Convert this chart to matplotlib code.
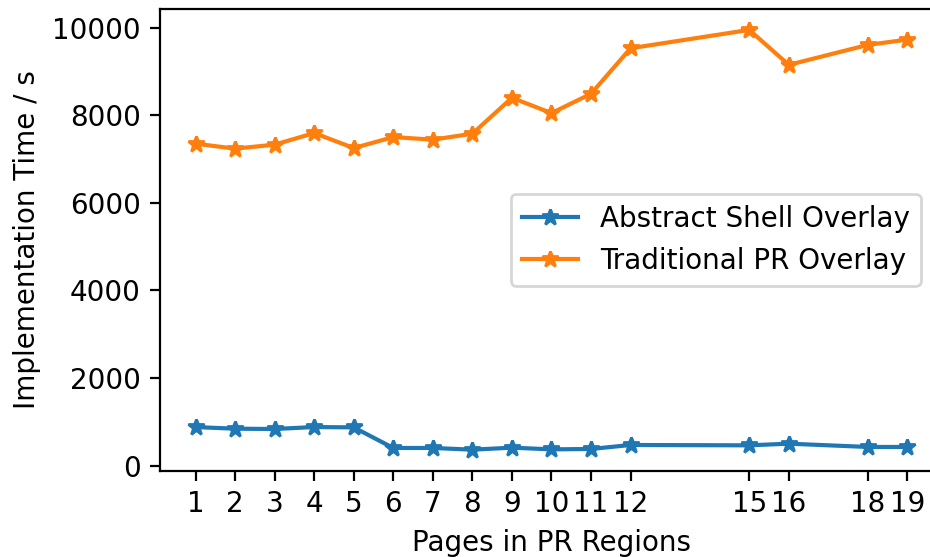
import matplotlib
matplotlib.use('Agg')
import matplotlib.pyplot as plt

pages = [1, 2, 3, 4, 5, 6, 7, 8, 9, 10, 11, 12, 15, 16, 18, 19]
abstract_shell = [880, 843, 836, 881, 873, 403, 403, 364, 410, 371, 380, 471, 463, 501, 426, 426]
traditional_pr = [7350, 7237, 7328, 7593, 7251, 7501, 7442, 7578, 8398, 8048, 8490, 9529, 9948, 9150, 9606, 9727]

fig = plt.figure(figsize=(4.65, 2.785), dpi=200)
ax = fig.add_axes([0.172, 0.155, 0.842, 0.829])

ax.plot(pages, abstract_shell, marker='*', label='Abstract Shell Overlay')
ax.plot(pages, traditional_pr, marker='*', label='Traditional PR Overlay')

ax.set_xticks(pages)
ax.set_xlabel('Pages in PR Regions')
ax.set_ylabel('Implementation Time / s')
ax.legend(loc='center right', borderaxespad=0.8)

fig.savefig('out.png', dpi=200)
